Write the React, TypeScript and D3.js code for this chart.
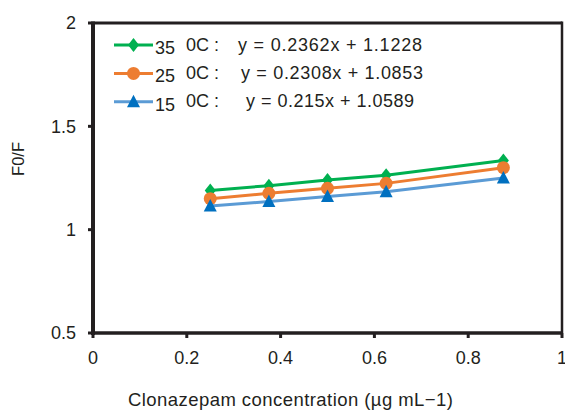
import * as d3 from 'd3';
import React from 'react';

const concentrations = [0.25, 0.375, 0.5, 0.625, 0.875];
const temp35 = [1.19, 1.213, 1.24, 1.263, 1.335];
const temp25 = [1.15, 1.176, 1.2, 1.224, 1.3];
const temp15 = [1.115, 1.136, 1.16, 1.184, 1.25];

const seriesNames = ['35', '25', '15'];
const equations = ['y = 0.2362x + 1.1228', 'y = 0.2308x + 1.0853', 'y = 0.215x + 1.0589'];

const xTicks = [0, 0.2, 0.4, 0.6, 0.8, 1];
const yTicks = [0.5, 1, 1.5, 2];

const W = 565;
const H = 410;
const left = 93;
const right = 562;
const top = 23;
const bottom = 333;
const font = 'Liberation Sans, Arial, sans-serif';
const axisColor = '#231f20';

function Marker({ kind, cx, cy, color }: { kind: string; cx: number; cy: number; color: string }) {
  if (kind === 'diamond') {
    const p = d3.path();
    p.moveTo(0, -7);
    p.lineTo(5.5, 0);
    p.lineTo(0, 7);
    p.lineTo(-5.5, 0);
    p.closePath();
    return <path d={p.toString()} transform={`translate(${cx},${cy})`} fill={color} />;
  }
  if (kind === 'circle') {
    return <circle cx={cx} cy={cy} r={6.5} fill={color} />;
  }
  const p = d3.path();
  p.moveTo(0, -7);
  p.lineTo(6.5, 5.5);
  p.lineTo(-6.5, 5.5);
  p.closePath();
  return <path d={p.toString()} transform={`translate(${cx},${cy})`} fill={color} />;
}

export default function App() {
  const x = d3.scaleLinear().domain([0, 1]).range([left, right]);
  const y = d3.scaleLinear().domain([0.5, 2]).range([bottom, top]);

  const series = [
    { name: seriesNames[0], eq: equations[0], eqX: 238, eqW: 184, values: temp35, line: '#00b050', mark: '#00b050', kind: 'diamond' },
    { name: seriesNames[1], eq: equations[1], eqX: 241, eqW: 182, values: temp25, line: '#ed7d31', mark: '#ed7d31', kind: 'circle' },
    { name: seriesNames[2], eq: equations[2], eqX: 246, eqW: 168, values: temp15, line: '#5b9bd5', mark: '#0070c0', kind: 'triangle' },
  ];

  const line = d3.line<[number, number]>().x(d => x(d[0])).y(d => y(d[1]));

  return (
    <svg width={W} height={H} style={{ position: 'absolute', left: 0, top: 0, background: '#fff' }} fontFamily={font}>
      {/* frame */}
      <line x1={left} x2={right} y1={top} y2={top} stroke={axisColor} strokeWidth={3} />
      <line x1={right} x2={right} y1={top - 1.5} y2={bottom} stroke={axisColor} strokeWidth={2.5} />
      <line x1={left} x2={left} y1={top - 1.5} y2={bottom + 2} stroke={axisColor} strokeWidth={4} />
      <line x1={left - 2} x2={right + 1} y1={bottom} y2={bottom} stroke={axisColor} strokeWidth={3.5} />

      {/* y ticks */}
      {yTicks.map(t => (
        <g key={`y${t}`}>
          <line x1={left - 5} x2={left} y1={y(t)} y2={y(t)} stroke={axisColor} strokeWidth={3} />
          <text x={76} y={y(t)} dy="0.35em" textAnchor="end" fontSize={18} fill="#231f20">{String(t)}</text>
        </g>
      ))}

      {/* x ticks */}
      {xTicks.map(t => (
        <g key={`x${t}`}>
          <line x1={x(t)} x2={x(t)} y1={bottom} y2={bottom + 5} stroke={axisColor} strokeWidth={3} />
          <text x={x(t)} y={364} textAnchor="middle" fontSize={18} fill="#231f20">{String(t)}</text>
        </g>
      ))}

      {/* series */}
      {series.map(s => {
        const pts = concentrations.map((c, i) => [c, s.values[i]] as [number, number]);
        return (
          <g key={s.name}>
            <path d={line(pts)!} fill="none" stroke={s.line} strokeWidth={3} />
            {pts.map((p, i) => (
              <Marker key={i} kind={s.kind} cx={x(p[0])} cy={y(p[1])} color={s.mark} />
            ))}
          </g>
        );
      })}

      {/* legend */}
      {series.map((s, i) => {
        const ly = 45 + i * 28.4;
        return (
          <g key={`lg${s.name}`}>
            <line x1={114} x2={153} y1={ly} y2={ly} stroke={s.line} strokeWidth={3} />
            <Marker kind={s.kind} cx={133.5} cy={ly} color={s.mark} />
            <text x={155} y={ly + 9} fontSize={18} fill="#231f20">{s.name}</text>
            <text x={186} y={ly + 5.5} fontSize={18} fill="#231f20">0C :</text>
            <text x={s.eqX} y={ly + 5.5} fontSize={18} fill="#231f20" textLength={s.eqW} lengthAdjust="spacing">{s.eq}</text>
          </g>
        );
      })}

      {/* axis titles */}
      <text x={290.5} y={406} textAnchor="middle" fontSize={18.5} fill="#231f20" textLength={325} lengthAdjust="spacing">Clonazepam concentration (µg mL−1)</text>
      <text transform={`translate(24,159) rotate(-90)`} textAnchor="middle" fontSize={16.5} fill="#231f20">F0/F</text>
    </svg>
  );
}
